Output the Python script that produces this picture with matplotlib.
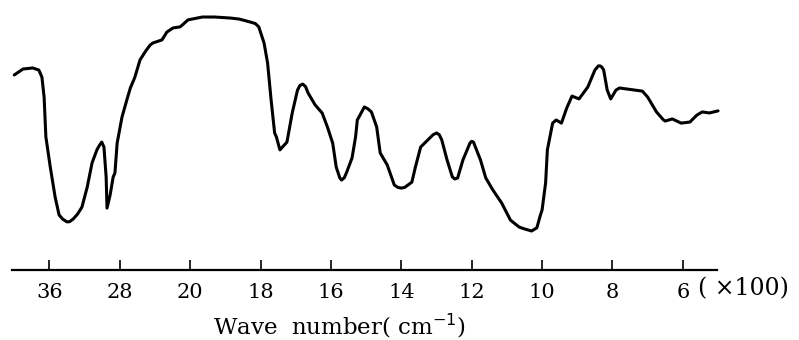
import numpy as np
import matplotlib.pyplot as plt
from matplotlib.ticker import FixedLocator, FixedFormatter, NullLocator

# IR spectrum, wave number in cm^-1 and transmittance (%)
wavenumber = [
    4000, 3900, 3790, 3720, 3685, 3660, 3640, 3590, 3535, 3490,
    3450, 3400, 3370, 3330, 3280, 3230, 3170, 3115, 3060, 3030,
    3005, 2980, 2955, 2945, 2910, 2875, 2855, 2830, 2775, 2720,
    2680, 2630, 2570, 2500, 2455, 2425, 2320, 2265, 2195, 2115,
    2090, 2025, 1965, 1930, 1885, 1860, 1830, 1815, 1805, 1790,
    1780, 1770, 1760, 1755, 1745, 1725, 1710, 1695, 1688, 1680,
    1672, 1665, 1645, 1625, 1610, 1595, 1585, 1575, 1570, 1562,
    1555, 1540, 1530, 1525, 1505, 1495, 1485, 1470, 1460, 1440,
    1420, 1410, 1400, 1390, 1370, 1360, 1345, 1325, 1310, 1300,
    1292, 1285, 1270, 1255, 1248, 1240, 1225, 1205, 1200, 1195,
    1175, 1160, 1140, 1115, 1090, 1065, 1050, 1030, 1015, 1005,
    1000, 990, 985, 970, 960, 945, 930, 915, 895, 870,
    850, 840, 835, 830, 825, 815, 805, 790, 780, 715,
    700, 675, 655, 650, 630, 605, 580, 560, 545, 525,
    500,
]
transmittance = [
    75.0, 77.3, 77.7, 76.9, 74.2, 66.5, 51.2, 39.6, 28.1, 21.2,
    19.6, 18.5, 18.6, 19.6, 21.5, 24.2, 31.9, 41.2, 46.2, 48.0,
    49.2, 47.3, 35.8, 23.8, 28.8, 35.8, 37.3, 48.8, 58.8, 65.4,
    70.0, 74.0, 80.8, 84.5, 86.5, 87.3, 88.5, 91.5, 93.1, 93.5,
    94.2, 96.2, 97.3, 97.3, 96.9, 96.5, 95.4, 94.8, 93.5, 87.3,
    79.6, 65.4, 52.7, 51.2, 46.2, 49.2, 60.4, 69.2, 71.0, 71.5,
    70.5, 68.1, 63.5, 60.4, 55.0, 48.8, 39.6, 35.5, 34.6, 35.5,
    37.7, 43.1, 51.2, 57.7, 62.7, 62.0, 60.8, 55.0, 45.0, 40.4,
    32.7, 31.8, 31.5, 31.8, 33.8, 39.6, 47.3, 50.0, 52.0, 52.7,
    52.0, 50.0, 42.3, 35.8, 35.0, 35.4, 42.3, 48.8, 49.5, 49.2,
    42.3, 35.4, 30.8, 25.8, 19.2, 16.5, 15.8, 15.0, 16.2, 21.0,
    23.1, 33.5, 46.2, 56.5, 57.7, 56.5, 62.3, 66.9, 65.8, 70.4,
    76.9, 78.5, 78.5, 78.0, 76.9, 69.2, 65.8, 69.2, 70.0, 68.8,
    66.5, 60.8, 57.7, 57.3, 58.1, 56.5, 56.9, 59.6, 60.8, 60.4,
    61.2,
]

tick_values = [3600, 2800, 2000, 1800, 1600, 1400, 1200, 1000, 800, 600]
tick_labels = ["36", "28", "20", "18", "16", "14", "12", "10", "8", "6"]


# above 2000 cm^-1 the chart scale is compressed 4x
def fwd(w):
    w = np.asarray(w, dtype=float)
    return np.where(w > 2000, 2000 + (w - 2000) / 4, w)


def inv(p):
    p = np.asarray(p, dtype=float)
    return np.where(p > 2000, 2000 + (p - 2000) * 4, p)


plt.rcParams["font.family"] = ["DejaVu Serif"]

fig = plt.figure(figsize=(7.99, 3.40), dpi=100)
ax = fig.add_axes([12 / 799, 70 / 340, 705 / 799, 260 / 340])
ax.set_xscale("function", functions=(fwd, inv))
ax.plot(wavenumber, transmittance, color="black", lw=2.2, clip_on=False,
        solid_joinstyle="round", solid_capstyle="round")
ax.set_xlim(4025, 503)
ax.set_ylim(0, 100)

for s in ["top", "left", "right"]:
    ax.spines[s].set_visible(False)
ax.spines["bottom"].set_linewidth(1.6)
ax.yaxis.set_visible(False)
ax.xaxis.set_major_locator(FixedLocator(tick_values))
ax.xaxis.set_major_formatter(FixedFormatter(tick_labels))
ax.xaxis.set_minor_locator(NullLocator())
ax.tick_params(axis="x", direction="in", length=7.5, width=1.2,
               pad=9, labelsize=15)

ax.text(0.285, -0.215, "Wave  number( cm$^{-1}$)", transform=ax.transAxes,
        ha="left", va="center", fontsize=16.5)
ax.text(0.973, -0.073, "( \u00d7100)", transform=ax.transAxes,
        ha="left", va="center", fontsize=17)

fig.savefig("out.png", dpi=100)
